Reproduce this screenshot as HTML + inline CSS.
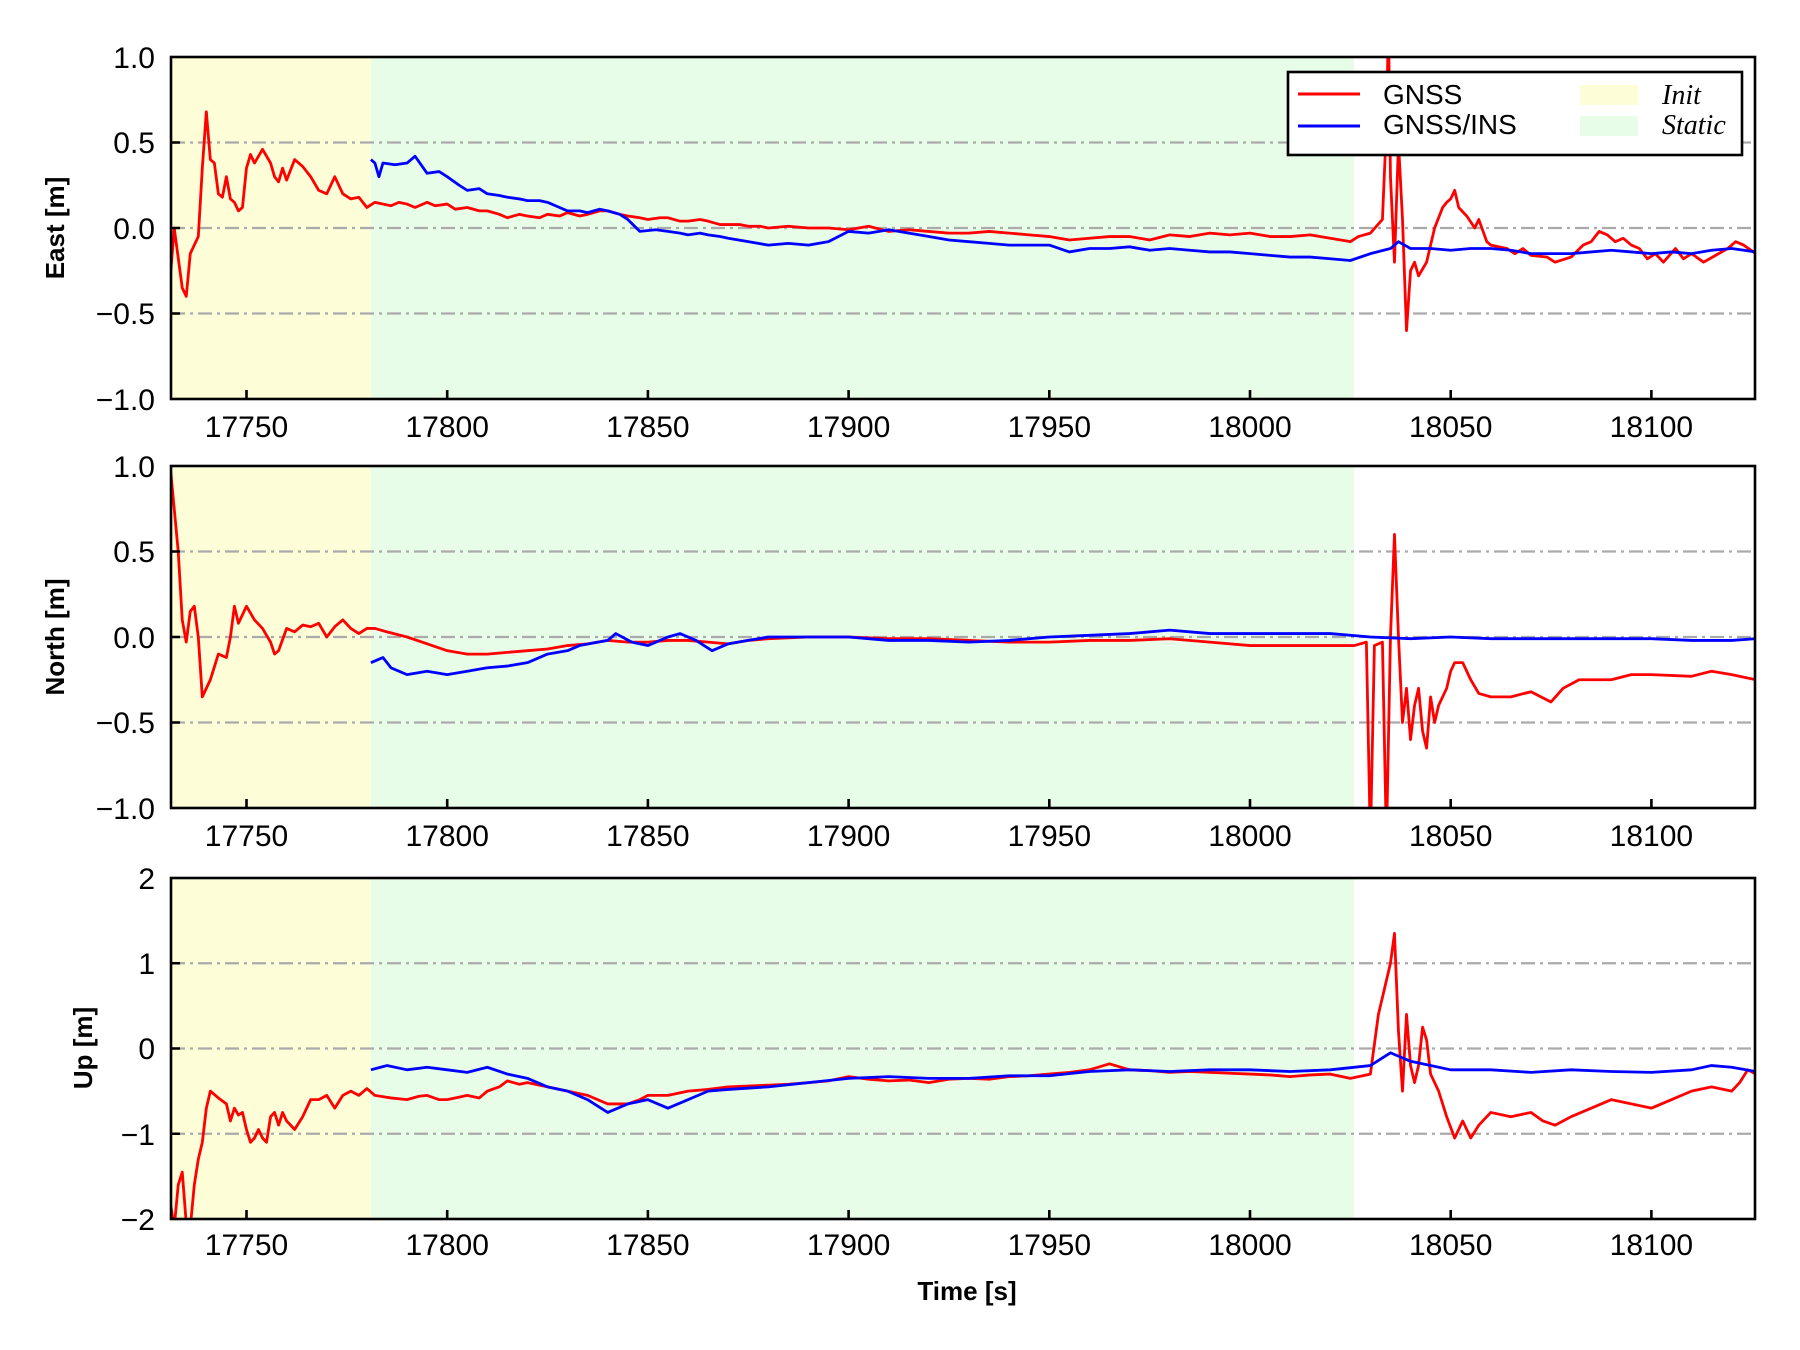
<!DOCTYPE html>
<html><head><meta charset="utf-8"><style>body{margin:0;background:#fff}svg{display:block}text{font-family:"Liberation Sans",sans-serif}</style></head><body>
<svg width="1800" height="1350" viewBox="0 0 1800 1350" xmlns="http://www.w3.org/2000/svg">
<defs>
<clipPath id="c1"><rect x="171" y="57" width="1584" height="342"/></clipPath>
<clipPath id="c2"><rect x="171" y="466" width="1584" height="342"/></clipPath>
<clipPath id="c3"><rect x="171" y="878" width="1584" height="341"/></clipPath>
</defs>
<style>
.bg1{fill:#fdfdd8}.bg2{fill:#e8fde8}
.g{stroke:#aaa;stroke-width:2.2;stroke-dasharray:14 5 3 5;fill:none}
.r{stroke:#ff0000;stroke-width:2.8;fill:none;vector-effect:non-scaling-stroke;stroke-linejoin:round}
.b{stroke:#0000ff;stroke-width:2.8;fill:none;vector-effect:non-scaling-stroke;stroke-linejoin:round}
.ax{fill:none;stroke:#000;stroke-width:2.6}
.tk{stroke:#000;stroke-width:2.6}
.tl{font-size:30px}
.yl{font-size:26px;font-weight:bold}
</style>

<!-- Panel 1 -->
<g>
<rect class="bg1" x="171" y="57" width="200" height="342"/>
<rect class="bg2" x="371" y="57" width="983" height="342"/>
<line class="g" x1="171" x2="1755" y1="142.5" y2="142.5"/>
<line class="g" x1="171" x2="1755" y1="228" y2="228"/>
<line class="g" x1="171" x2="1755" y1="313.5" y2="313.5"/>
<g clip-path="url(#c1)"><g transform="translate(171,57) scale(4.014,-171) translate(-17731.2,-1)">
<polyline class="r" points="17731,-0.3 17732,0 17734,-0.35 17735,-0.4 17736,-0.15 17738,-0.05 17739,0.35 17740,0.68 17741,0.4 17742,0.38 17743,0.2 17744,0.18 17745,0.3 17746,0.17 17747,0.15 17748,0.1 17749,0.12 17750,0.35 17751,0.43 17752,0.38 17754,0.46 17756,0.38 17757,0.3 17758,0.27 17759,0.35 17760,0.28 17762,0.4 17764,0.36 17766,0.3 17768,0.22 17770,0.2 17772,0.3 17774,0.2 17776,0.17 17778,0.18 17780,0.12 17782,0.15 17784,0.14 17786,0.13 17788,0.15 17790,0.14 17792,0.12 17795,0.15 17797,0.13 17800,0.14 17802,0.11 17805,0.12 17808,0.1 17810,0.1 17813,0.08 17815,0.06 17818,0.08 17820,0.07 17823,0.06 17825,0.08 17828,0.07 17830,0.09 17833,0.07 17835,0.08 17838,0.1 17840,0.1 17843,0.08 17845,0.07 17848,0.06 17850,0.05 17853,0.06 17855,0.06 17858,0.04 17860,0.04 17863,0.05 17865,0.04 17868,0.02 17870,0.02 17873,0.02 17875,0.01 17878,0.01 17880,0 17885,0.01 17890,0 17895,0 17900,-0.01 17905,0.01 17910,-0.02 17915,-0.01 17920,-0.02 17925,-0.03 17930,-0.03 17935,-0.02 17940,-0.03 17945,-0.04 17950,-0.05 17955,-0.07 17960,-0.06 17965,-0.05 17970,-0.05 17975,-0.07 17980,-0.04 17985,-0.05 17990,-0.03 17995,-0.04 18000,-0.03 18005,-0.05 18010,-0.05 18015,-0.04 18020,-0.06 18025,-0.08 18027,-0.05 18030,-0.03 18033,0.05 18034,0.6 18034.5,1.2 18035,0.3 18036,-0.2 18037,0.5 18038,0.05 18039,-0.6 18040,-0.25 18041,-0.2 18042,-0.28 18044,-0.2 18046,0 18048,0.12 18049,0.15 18050,0.17 18051,0.22 18052,0.12 18054,0.07 18056,0 18057,0.05 18059,-0.08 18060,-0.1 18064,-0.12 18066,-0.15 18068,-0.12 18070,-0.16 18074,-0.17 18076,-0.2 18080,-0.17 18083,-0.1 18085,-0.08 18087,-0.02 18089,-0.04 18091,-0.08 18093,-0.06 18095,-0.1 18097,-0.12 18099,-0.18 18101,-0.15 18103,-0.2 18106,-0.12 18108,-0.18 18110,-0.15 18113,-0.2 18116,-0.16 18119,-0.12 18121,-0.08 18123,-0.1 18126,-0.15"/>
<polyline class="b" points="17781,0.4 17782,0.38 17783,0.3 17784,0.38 17787,0.37 17790,0.38 17792,0.42 17795,0.32 17798,0.33 17800,0.3 17803,0.25 17805,0.22 17808,0.23 17810,0.2 17813,0.19 17815,0.18 17818,0.17 17820,0.16 17823,0.16 17825,0.15 17828,0.12 17830,0.1 17833,0.1 17835,0.09 17838,0.11 17840,0.1 17843,0.08 17845,0.05 17848,-0.02 17852,-0.01 17855,-0.02 17858,-0.03 17860,-0.04 17863,-0.03 17865,-0.04 17868,-0.05 17870,-0.06 17875,-0.08 17880,-0.1 17885,-0.09 17890,-0.1 17895,-0.08 17900,-0.02 17905,-0.03 17910,-0.01 17915,-0.03 17920,-0.05 17925,-0.07 17930,-0.08 17935,-0.09 17940,-0.1 17945,-0.1 17950,-0.1 17955,-0.14 17960,-0.12 17965,-0.12 17970,-0.11 17975,-0.13 17980,-0.12 17985,-0.13 17990,-0.14 17995,-0.14 18000,-0.15 18005,-0.16 18010,-0.17 18015,-0.17 18020,-0.18 18025,-0.19 18030,-0.15 18035,-0.12 18037,-0.08 18040,-0.12 18045,-0.12 18050,-0.13 18055,-0.12 18060,-0.12 18065,-0.13 18070,-0.15 18075,-0.15 18080,-0.15 18085,-0.14 18090,-0.13 18095,-0.14 18100,-0.15 18105,-0.14 18110,-0.15 18115,-0.13 18120,-0.12 18126,-0.14"/>
</g></g>
<rect class="ax" x="171" y="57" width="1584" height="342"/>
</g>

<!-- Panel 2 -->
<g>
<rect class="bg1" x="171" y="466" width="200" height="342"/>
<rect class="bg2" x="371" y="466" width="983" height="342"/>
<line class="g" x1="171" x2="1755" y1="551.5" y2="551.5"/>
<line class="g" x1="171" x2="1755" y1="637" y2="637"/>
<line class="g" x1="171" x2="1755" y1="722.5" y2="722.5"/>
<g clip-path="url(#c2)"><g transform="translate(171,466) scale(4.014,-171) translate(-17731.2,-1)">
<polyline class="r" points="17731,1 17733,0.5 17734,0.1 17735,-0.03 17736,0.15 17737,0.18 17738,0 17739,-0.35 17741,-0.25 17743,-0.1 17745,-0.12 17746,0 17747,0.18 17748,0.08 17750,0.18 17752,0.1 17754,0.05 17756,-0.03 17757,-0.1 17758,-0.08 17760,0.05 17762,0.03 17764,0.07 17766,0.06 17768,0.08 17770,0 17772,0.06 17774,0.1 17776,0.05 17778,0.02 17780,0.05 17782,0.05 17785,0.03 17790,0 17795,-0.04 17800,-0.08 17805,-0.1 17810,-0.1 17815,-0.09 17820,-0.08 17825,-0.07 17830,-0.05 17835,-0.04 17840,-0.02 17845,-0.03 17850,-0.03 17855,-0.02 17860,-0.02 17865,-0.03 17870,-0.04 17875,-0.02 17880,-0.01 17890,0 17900,0 17910,-0.01 17920,-0.01 17930,-0.02 17940,-0.03 17950,-0.03 17960,-0.02 17970,-0.02 17980,-0.01 17990,-0.03 18000,-0.05 18010,-0.05 18020,-0.05 18026,-0.05 18029,-0.03 18030,-1.2 18031,-0.05 18033,-0.03 18034,-1.2 18035,0 18036,0.6 18037,0 18038,-0.5 18039,-0.3 18040,-0.6 18041,-0.4 18042,-0.3 18043,-0.55 18044,-0.65 18045,-0.35 18046,-0.5 18047,-0.4 18049,-0.3 18050,-0.2 18051,-0.15 18053,-0.15 18055,-0.25 18057,-0.33 18060,-0.35 18065,-0.35 18070,-0.32 18075,-0.38 18078,-0.3 18082,-0.25 18090,-0.25 18095,-0.22 18100,-0.22 18110,-0.23 18115,-0.2 18120,-0.22 18126,-0.25"/>
<polyline class="b" points="17781,-0.15 17784,-0.12 17786,-0.18 17790,-0.22 17795,-0.2 17800,-0.22 17805,-0.2 17810,-0.18 17815,-0.17 17820,-0.15 17825,-0.1 17830,-0.08 17833,-0.05 17840,-0.02 17842,0.02 17846,-0.03 17850,-0.05 17855,0 17858,0.02 17862,-0.02 17866,-0.08 17870,-0.04 17875,-0.02 17880,0 17890,0 17900,0 17910,-0.02 17920,-0.02 17930,-0.03 17940,-0.02 17950,0 17960,0.01 17970,0.02 17980,0.04 17990,0.02 18000,0.02 18010,0.02 18020,0.02 18030,0 18040,-0.01 18050,0 18060,-0.01 18070,-0.01 18080,-0.01 18090,-0.01 18100,-0.01 18110,-0.02 18120,-0.02 18126,-0.01"/>
</g></g>
<rect class="ax" x="171" y="466" width="1584" height="342"/>
</g>

<!-- Panel 3 -->
<g>
<rect class="bg1" x="171" y="878" width="200" height="341"/>
<rect class="bg2" x="371" y="878" width="983" height="341"/>
<line class="g" x1="171" x2="1755" y1="963.25" y2="963.25"/>
<line class="g" x1="171" x2="1755" y1="1048.5" y2="1048.5"/>
<line class="g" x1="171" x2="1755" y1="1133.75" y2="1133.75"/>
<g clip-path="url(#c3)"><g transform="translate(171,878) scale(4.014,-85.25) translate(-17731.2,-2)">
<polyline class="r" points="17731,-1.8 17732,-2.1 17733,-1.6 17734,-1.45 17735,-2.05 17736,-2.1 17737,-1.6 17738,-1.3 17739,-1.1 17740,-0.7 17741,-0.5 17743,-0.58 17745,-0.65 17746,-0.85 17747,-0.7 17748,-0.78 17749,-0.75 17750,-0.95 17751,-1.1 17752,-1.05 17753,-0.95 17754,-1.05 17755,-1.1 17756,-0.8 17757,-0.75 17758,-0.9 17759,-0.75 17760,-0.85 17762,-0.95 17764,-0.8 17766,-0.6 17768,-0.6 17770,-0.55 17772,-0.7 17774,-0.55 17776,-0.5 17778,-0.55 17780,-0.47 17782,-0.55 17786,-0.58 17790,-0.6 17793,-0.56 17795,-0.55 17798,-0.6 17800,-0.6 17803,-0.57 17805,-0.55 17808,-0.58 17810,-0.5 17813,-0.45 17815,-0.38 17818,-0.42 17820,-0.4 17825,-0.45 17830,-0.5 17835,-0.55 17840,-0.65 17845,-0.65 17848,-0.6 17850,-0.55 17855,-0.55 17860,-0.5 17865,-0.48 17870,-0.45 17875,-0.44 17880,-0.43 17885,-0.42 17890,-0.4 17895,-0.38 17900,-0.33 17905,-0.36 17910,-0.38 17915,-0.37 17920,-0.4 17925,-0.36 17930,-0.35 17935,-0.36 17940,-0.33 17945,-0.32 17950,-0.3 17955,-0.28 17960,-0.25 17965,-0.18 17970,-0.25 17975,-0.26 17980,-0.28 17985,-0.27 17990,-0.28 17995,-0.29 18000,-0.3 18005,-0.31 18010,-0.33 18015,-0.31 18020,-0.3 18025,-0.35 18030,-0.3 18032,0.4 18034,0.8 18035,1 18036,1.35 18037,0.2 18038,-0.5 18039,0.4 18040,-0.2 18041,-0.4 18042,-0.2 18043,0.25 18044,0.1 18045,-0.3 18047,-0.5 18049,-0.8 18051,-1.05 18053,-0.85 18055,-1.05 18057,-0.9 18060,-0.75 18065,-0.8 18070,-0.75 18073,-0.85 18076,-0.9 18080,-0.8 18085,-0.7 18090,-0.6 18095,-0.65 18100,-0.7 18105,-0.6 18110,-0.5 18115,-0.45 18120,-0.5 18122,-0.4 18124,-0.25 18126,-0.3"/>
<polyline class="b" points="17781,-0.25 17785,-0.2 17790,-0.25 17795,-0.22 17800,-0.25 17805,-0.28 17810,-0.22 17815,-0.3 17820,-0.35 17825,-0.45 17830,-0.5 17835,-0.6 17840,-0.75 17845,-0.65 17850,-0.6 17855,-0.7 17860,-0.6 17865,-0.5 17870,-0.48 17880,-0.45 17890,-0.4 17900,-0.35 17910,-0.33 17920,-0.35 17930,-0.35 17940,-0.32 17950,-0.32 17960,-0.27 17970,-0.25 17980,-0.27 17990,-0.25 18000,-0.25 18010,-0.27 18020,-0.25 18030,-0.2 18035,-0.05 18040,-0.15 18045,-0.2 18050,-0.25 18060,-0.25 18070,-0.28 18080,-0.25 18090,-0.27 18100,-0.28 18110,-0.25 18115,-0.2 18120,-0.22 18126,-0.27"/>
</g></g>
<rect class="ax" x="171" y="878" width="1584" height="341"/>
</g>

<!-- ticks -->
<g class="tk">
<path d="M246.5,399v-9M447.2,399v-9M647.9,399v-9M848.6,399v-9M1049.3,399v-9M1250,399v-9M1450.7,399v-9M1651.4,399v-9
M246.5,808v-9M447.2,808v-9M647.9,808v-9M848.6,808v-9M1049.3,808v-9M1250,808v-9M1450.7,808v-9M1651.4,808v-9
M246.5,1219v-9M447.2,1219v-9M647.9,1219v-9M848.6,1219v-9M1049.3,1219v-9M1250,1219v-9M1450.7,1219v-9M1651.4,1219v-9
M171,142.5h9M171,228h9M171,313.5h9M171,551.5h9M171,637h9M171,722.5h9M171,963.25h9M171,1048.5h9M171,1133.75h9"/>
</g>
<g class="tl" text-anchor="middle">
<text x="246.5" y="437">17750</text><text x="447.2" y="437">17800</text><text x="647.9" y="437">17850</text><text x="848.6" y="437">17900</text><text x="1049.3" y="437">17950</text><text x="1250" y="437">18000</text><text x="1450.7" y="437">18050</text><text x="1651.4" y="437">18100</text>
<text x="246.5" y="846">17750</text><text x="447.2" y="846">17800</text><text x="647.9" y="846">17850</text><text x="848.6" y="846">17900</text><text x="1049.3" y="846">17950</text><text x="1250" y="846">18000</text><text x="1450.7" y="846">18050</text><text x="1651.4" y="846">18100</text>
<text x="246.5" y="1255">17750</text><text x="447.2" y="1255">17800</text><text x="647.9" y="1255">17850</text><text x="848.6" y="1255">17900</text><text x="1049.3" y="1255">17950</text><text x="1250" y="1255">18000</text><text x="1450.7" y="1255">18050</text><text x="1651.4" y="1255">18100</text>
</g>
<g class="tl" text-anchor="end">
<text x="155" y="68">1.0</text><text x="155" y="153">0.5</text><text x="155" y="239">0.0</text><text x="155" y="324">−0.5</text><text x="155" y="410">−1.0</text>
<text x="155" y="477">1.0</text><text x="155" y="562">0.5</text><text x="155" y="648">0.0</text><text x="155" y="733">−0.5</text><text x="155" y="819">−1.0</text>
<text x="155" y="889">2</text><text x="155" y="974">1</text><text x="155" y="1059">0</text><text x="155" y="1145">−1</text><text x="155" y="1230">−2</text>
</g>
<g class="yl" text-anchor="middle">
<text transform="translate(64,228) rotate(-90)">East [m]</text>
<text transform="translate(64,637) rotate(-90)">North [m]</text>
<text transform="translate(92,1048) rotate(-90)">Up [m]</text>
<text x="967" y="1300">Time [s]</text>
</g>

<!-- legend -->
<g>
<rect x="1288" y="72" width="454" height="83" fill="#fff" stroke="#000" stroke-width="2.6"/>
<line x1="1298" x2="1360" y1="94" y2="94" stroke="#f00" stroke-width="3"/>
<line x1="1298" x2="1360" y1="126" y2="126" stroke="#00f" stroke-width="3"/>
<text x="1383" y="104" font-size="28">GNSS</text>
<text x="1383" y="134" font-size="28">GNSS/INS</text>
<rect x="1580" y="85" width="58" height="20" fill="#fdfdd8"/>
<rect x="1580" y="116" width="58" height="20" fill="#e8fde8"/>
<text x="1662" y="104" font-size="28" font-style="italic" style="font-family:'Liberation Serif',serif">Init</text>
<text x="1662" y="134" font-size="28" font-style="italic" style="font-family:'Liberation Serif',serif">Static</text>
</g>
</svg>
</body></html>
